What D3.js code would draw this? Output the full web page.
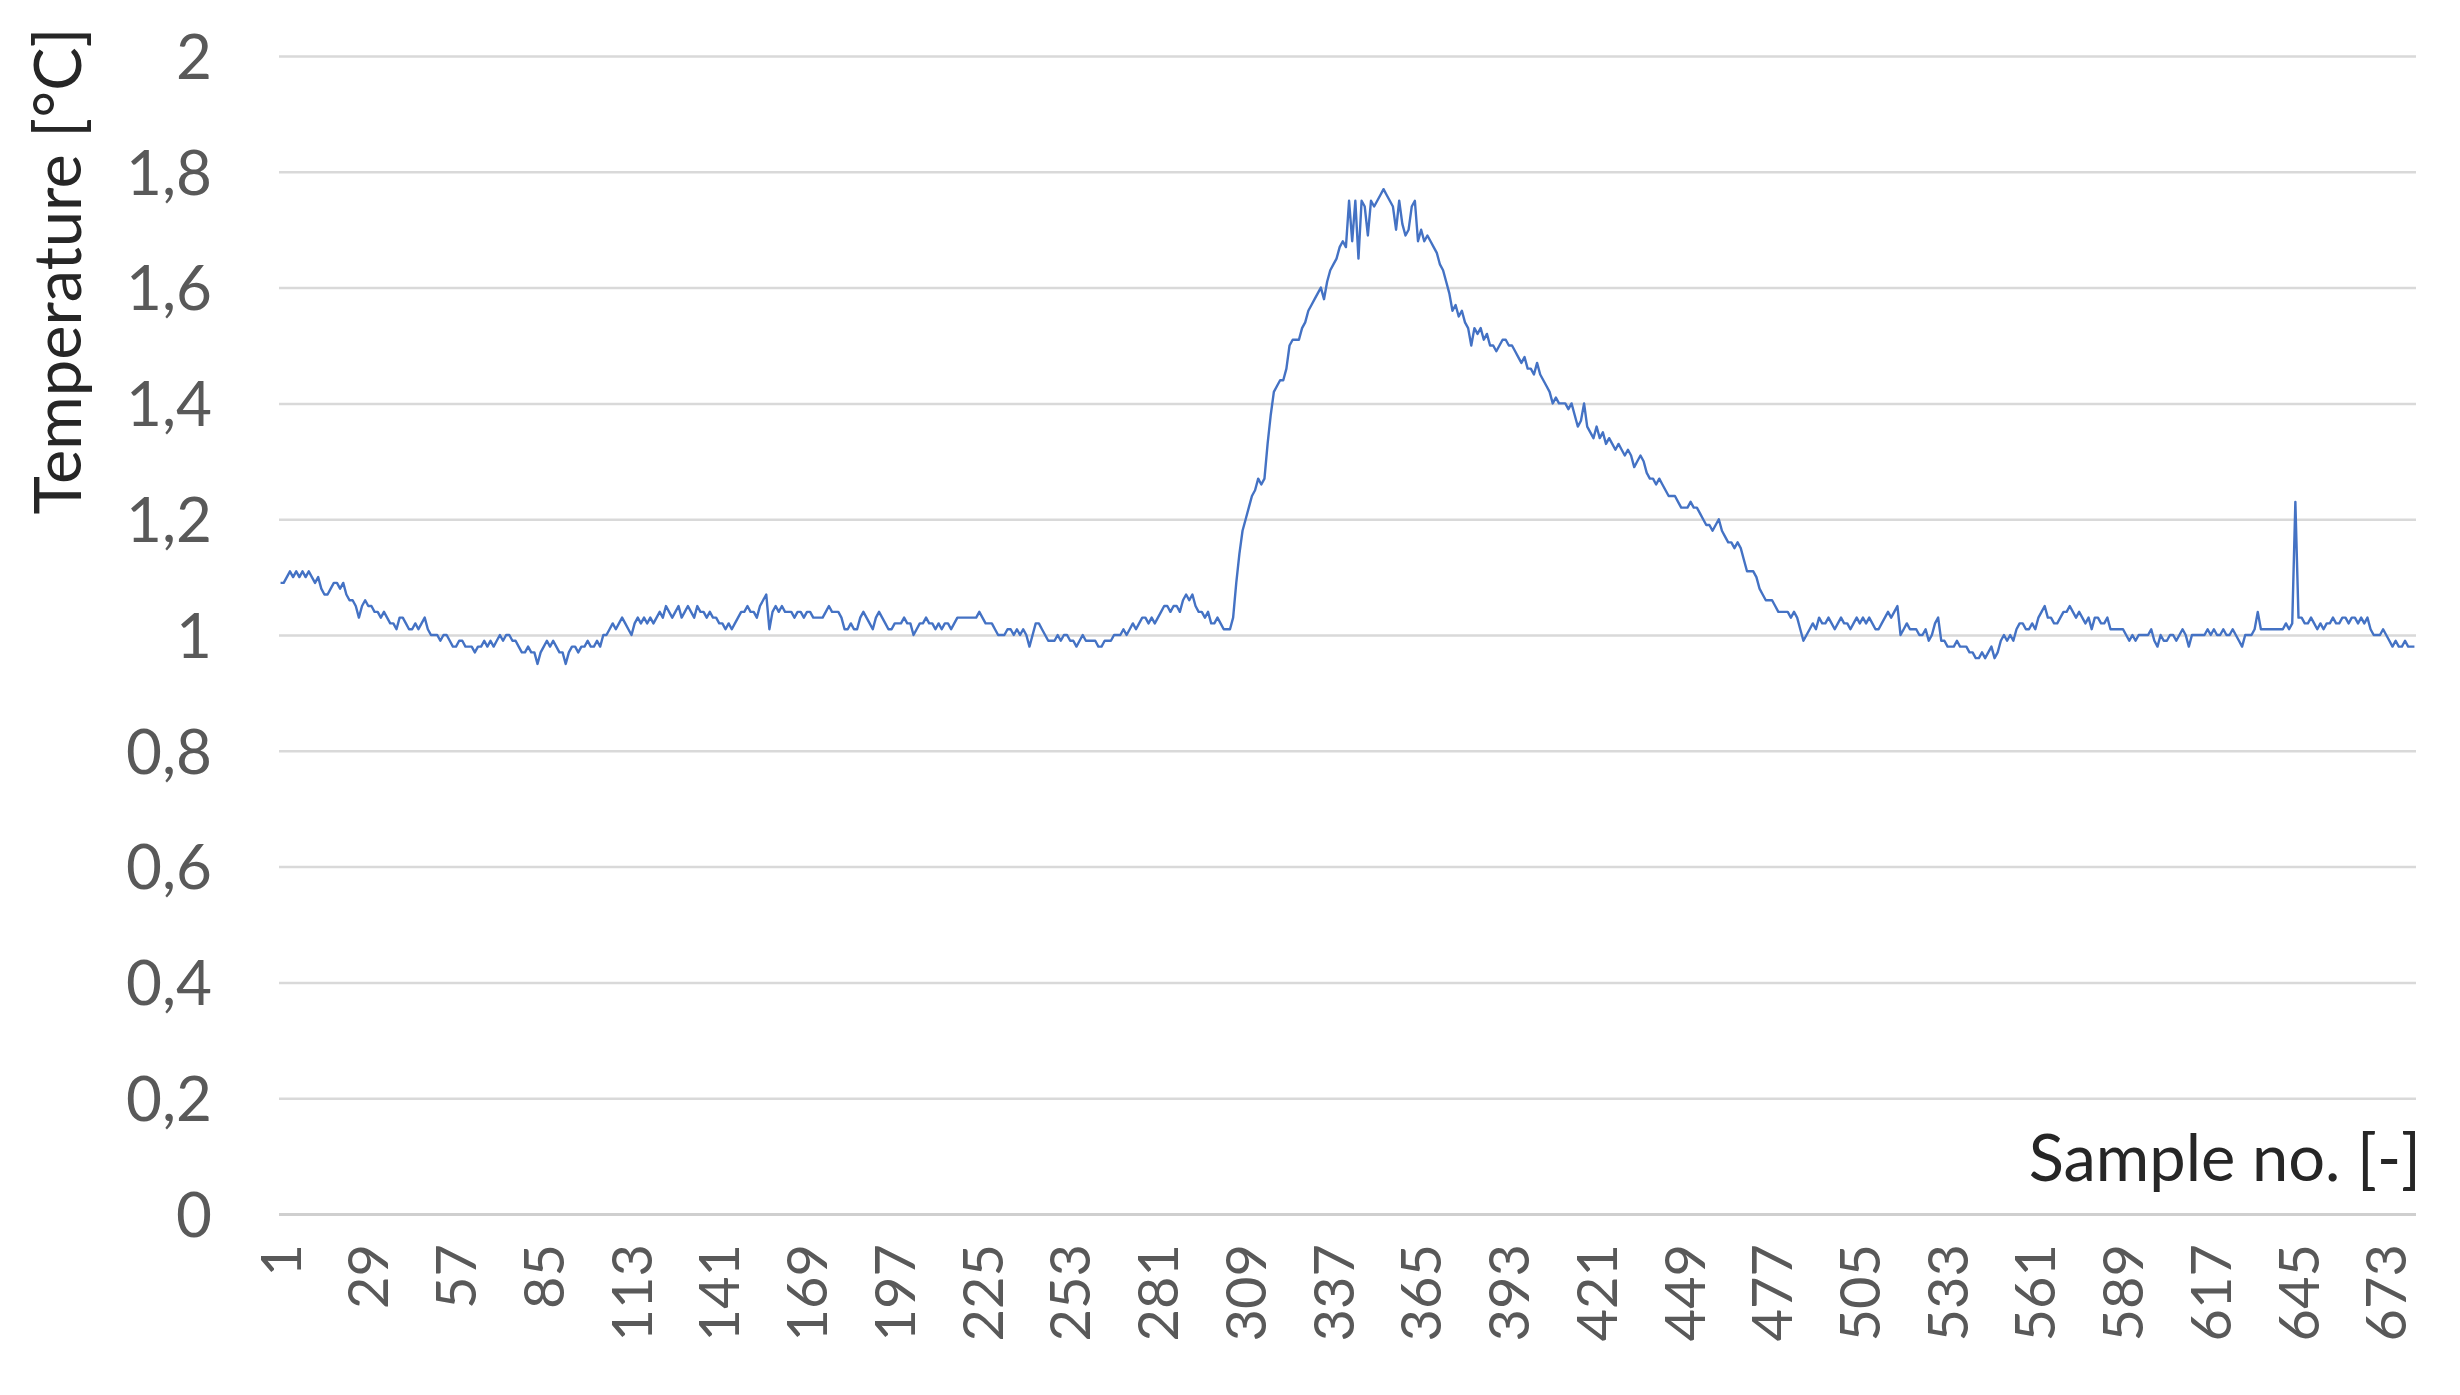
<!DOCTYPE html>
<html><head><meta charset="utf-8">
<script src="https://cdn.jsdelivr.net/npm/d3@7"></script>
<style>body{margin:0;background:#fff} svg{display:block}</style>
</head><body>
<svg id="chart" width="2460" height="1395"></svg>
<script>
// ---- data ----
const yTickValues = [0, 0.2, 0.4, 0.6, 0.8, 1, 1.2, 1.4, 1.6, 1.8, 2];
const xTickLabels = [1, 29, 57, 85, 113, 141, 169, 197, 225, 253, 281, 309, 337, 365, 393, 421, 449, 477, 505, 533, 561, 589, 617, 645, 673];
const yTitle = "Temperature [°C]";
const xTitle = "Sample no. [-]";

// samples 1-137
const tempA = [
1.09,1.09,1.10,1.11,1.10,1.11,1.10,1.11,1.10,1.11,
1.10,1.09,1.10,1.08,1.07,1.07,1.08,1.09,1.09,1.08,
1.09,1.07,1.06,1.06,1.05,1.03,1.05,1.06,1.05,1.05,
1.04,1.04,1.03,1.04,1.03,1.02,1.02,1.01,1.03,1.03,
1.02,1.01,1.01,1.02,1.01,1.02,1.03,1.01,1.00,1.00,
1.00,0.99,1.00,1.00,0.99,0.98,0.98,0.99,0.99,0.98,
0.98,0.98,0.97,0.98,0.98,0.99,0.98,0.99,0.98,0.99,
1.00,0.99,1.00,1.00,0.99,0.99,0.98,0.97,0.97,0.98,
0.97,0.97,0.95,0.97,0.98,0.99,0.98,0.99,0.98,0.97,
0.97,0.95,0.97,0.98,0.98,0.97,0.98,0.98,0.99,0.98,
0.98,0.99,0.98,1.00,1.00,1.01,1.02,1.01,1.02,1.03,
1.02,1.01,1.00,1.02,1.03,1.02,1.03,1.02,1.03,1.02,
1.03,1.04,1.03,1.05,1.04,1.03,1.04,1.05,1.03,1.04,
1.05,1.04,1.03,1.05,1.04,1.04,1.03];
// samples 138-273
const tempB = [
1.04,1.03,1.03,1.02,1.02,1.01,1.02,1.01,1.02,1.03,
1.04,1.04,1.05,1.04,1.04,1.03,1.05,1.06,1.07,1.01,
1.04,1.05,1.04,1.05,1.04,1.04,1.04,1.03,1.04,1.04,
1.03,1.04,1.04,1.03,1.03,1.03,1.03,1.04,1.05,1.04,
1.04,1.04,1.03,1.01,1.01,1.02,1.01,1.01,1.03,1.04,
1.03,1.02,1.01,1.03,1.04,1.03,1.02,1.01,1.01,1.02,
1.02,1.02,1.03,1.02,1.02,1.00,1.01,1.02,1.02,1.03,
1.02,1.02,1.01,1.02,1.01,1.02,1.02,1.01,1.02,1.03,
1.03,1.03,1.03,1.03,1.03,1.03,1.04,1.03,1.02,1.02,
1.02,1.01,1.00,1.00,1.00,1.01,1.01,1.00,1.01,1.00,
1.01,1.00,0.98,1.00,1.02,1.02,1.01,1.00,0.99,0.99,
0.99,1.00,0.99,1.00,1.00,0.99,0.99,0.98,0.99,1.00,
0.99,0.99,0.99,0.99,0.98,0.98,0.99,0.99,0.99,1.00,
1.00,1.00,1.01,1.00,1.01,1.02];
// samples 274-408
const tempC = [
1.01,1.02,1.03,1.03,1.02,1.03,1.02,1.03,1.04,1.05,
1.05,1.04,1.05,1.05,1.04,1.06,1.07,1.06,1.07,1.05,
1.04,1.04,1.03,1.04,1.02,1.02,1.03,1.02,1.01,1.01,
1.01,1.03,1.09,1.14,1.18,1.20,1.22,1.24,1.25,1.27,
1.26,1.27,1.33,1.38,1.42,1.43,1.44,1.44,1.46,1.50,
1.51,1.51,1.51,1.53,1.54,1.56,1.57,1.58,1.59,1.60,
1.58,1.61,1.63,1.64,1.65,1.67,1.68,1.67,1.75,1.68,
1.75,1.65,1.75,1.74,1.69,1.75,1.74,1.75,1.76,1.77,
1.76,1.75,1.74,1.70,1.75,1.71,1.69,1.70,1.74,1.75,
1.68,1.70,1.68,1.69,1.68,1.67,1.66,1.64,1.63,1.61,
1.59,1.56,1.57,1.55,1.56,1.54,1.53,1.50,1.53,1.52,
1.53,1.51,1.52,1.50,1.50,1.49,1.50,1.51,1.51,1.50,
1.50,1.49,1.48,1.47,1.48,1.46,1.46,1.45,1.47,1.45,
1.44,1.43,1.42,1.40,1.41];
// samples 409-542
const tempD = [
1.40,1.40,1.40,1.39,1.40,1.38,1.36,1.37,1.40,1.36,
1.35,1.34,1.36,1.34,1.35,1.33,1.34,1.33,1.32,1.33,
1.32,1.31,1.32,1.31,1.29,1.30,1.31,1.30,1.28,1.27,
1.27,1.26,1.27,1.26,1.25,1.24,1.24,1.24,1.23,1.22,
1.22,1.22,1.23,1.22,1.22,1.21,1.20,1.19,1.19,1.18,
1.19,1.20,1.18,1.17,1.16,1.16,1.15,1.16,1.15,1.13,
1.11,1.11,1.11,1.10,1.08,1.07,1.06,1.06,1.06,1.05,
1.04,1.04,1.04,1.04,1.03,1.04,1.03,1.01,0.99,1.00,
1.01,1.02,1.01,1.03,1.02,1.02,1.03,1.02,1.01,1.02,
1.03,1.02,1.02,1.01,1.02,1.03,1.02,1.03,1.02,1.03,
1.02,1.01,1.01,1.02,1.03,1.04,1.03,1.04,1.05,1.00,
1.01,1.02,1.01,1.01,1.01,1.00,1.00,1.01,0.99,1.00,
1.02,1.03,0.99,0.99,0.98,0.98,0.98,0.99,0.98,0.98,
0.98,0.97,0.97,0.96];
// samples 543-682
const tempE = [
0.96,0.97,0.96,0.97,0.98,0.96,0.97,0.99,1.00,0.99,
1.00,0.99,1.01,1.02,1.02,1.01,1.01,1.02,1.01,1.03,
1.04,1.05,1.03,1.03,1.02,1.02,1.03,1.04,1.04,1.05,
1.04,1.03,1.04,1.03,1.02,1.03,1.01,1.03,1.03,1.02,
1.02,1.03,1.01,1.01,1.01,1.01,1.01,1.00,0.99,1.00,
0.99,1.00,1.00,1.00,1.00,1.01,0.99,0.98,1.00,0.99,
0.99,1.00,1.00,0.99,1.00,1.01,1.00,0.98,1.00,1.00,
1.00,1.00,1.00,1.01,1.00,1.01,1.00,1.00,1.01,1.00,
1.00,1.01,1.00,0.99,0.98,1.00,1.00,1.00,1.01,1.04,
1.01,1.01,1.01,1.01,1.01,1.01,1.01,1.01,1.02,1.01,
1.02,1.23,1.03,1.03,1.02,1.02,1.03,1.02,1.01,1.02,
1.01,1.02,1.02,1.03,1.02,1.02,1.03,1.03,1.02,1.03,
1.03,1.02,1.03,1.02,1.03,1.01,1.00,1.00,1.00,1.01,
1.00,0.99,0.98,0.99,0.98,0.98,0.99,0.98,0.98,0.98];

const temperature = [].concat(tempA, tempB, tempC, tempD, tempE);
const samples = temperature.map((_, i) => i + 1);

// ---- layout ----
const plotLeft = 279, plotRight = 2416, plotTop = 56, plotBottom = 1214;
const font = "Lato, 'Open Sans', sans-serif";
const svg = d3.select("#chart");

const x = d3.scaleBand().domain(samples).range([plotLeft, plotRight]).padding(0);
const y = d3.scaleLinear().domain([0, 2]).range([plotBottom, plotTop]);
const fmt = d3.formatLocale({decimal: ",", thousands: ".", grouping: [3], currency: ["", ""]}).format(".1~f");

// gridlines
const grid = svg.append("g").attr("transform", `translate(${plotLeft},0)`)
  .call(d3.axisLeft(y).tickValues(yTickValues).tickSize(-(plotRight - plotLeft)).tickFormat(""));
grid.select(".domain").remove();
grid.selectAll("line").attr("stroke", "#d9d9d9").attr("stroke-width", 2.5);
grid.selectAll("g.tick").filter(d => d === 0).select("line").attr("stroke", "#cfcfcf").attr("stroke-width", 3);

// y tick labels
const yAx = svg.append("g").attr("transform", `translate(212,0)`)
  .call(d3.axisLeft(y).tickValues(yTickValues).tickSize(0).tickPadding(0).tickFormat(fmt));
yAx.select(".domain").remove();
yAx.selectAll("text").attr("font-family", font).attr("font-size", 62).attr("fill", "#595959")
  .attr("text-anchor", "end").attr("dy", "0.36em");

// x tick labels
const xAx = svg.append("g").attr("transform", `translate(0,${plotBottom})`)
  .call(d3.axisBottom(x).tickValues(xTickLabels).tickSize(0).tickPadding(0));
xAx.select(".domain").remove();
xAx.selectAll("text").attr("font-family", font).attr("font-size", 56).attr("fill", "#595959")
  .attr("text-anchor", "end").attr("dy", "0.36em").attr("y", 0).attr("x", 0)
  .attr("transform", "translate(0,30) rotate(-90)");

// line
const line = d3.line().x((d, i) => x(samples[i]) + x.bandwidth() / 2).y(d => y(d));
svg.append("path").datum(temperature).attr("d", line)
  .attr("fill", "none").attr("stroke", "#4472c4").attr("stroke-width", 2.4).attr("stroke-linejoin", "round");

// axis titles
svg.append("text").attr("transform", "translate(58,271) rotate(-90)")
  .attr("text-anchor", "middle").attr("dy", "0.36em")
  .attr("font-family", font).attr("font-size", 65).attr("fill", "#262626").text(yTitle);
svg.append("text").attr("x", 2421).attr("y", 1158).attr("dy", "0.36em")
  .attr("text-anchor", "end").attr("font-family", font).attr("font-size", 65).attr("fill", "#262626").text(xTitle);
</script>
</body></html>
